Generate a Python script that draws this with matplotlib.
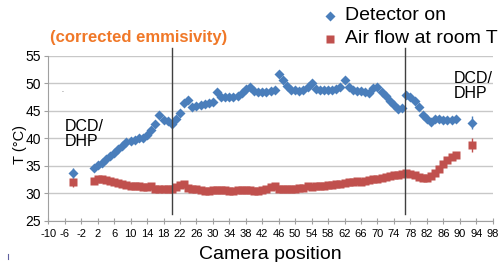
import numpy as np
import matplotlib.pyplot as plt

plt.rcParams['font.family'] = ['Liberation Sans', 'DejaVu Sans']
plt.rcParams['axes.unicode_minus'] = False

# camera positions of the main scan
positions = list(range(1, 90))

detector_on = [34.6, 35.1, 35.6, 36.2, 36.8, 37.4, 38.0, 38.6, 39.3, 39.5,
               39.8, 40.0, 40.1, 40.6, 41.6, 42.6, 44.3, 43.3, 43.1, 42.6,
               43.5, 44.6, 46.5, 47.0, 45.7, 45.9, 46.1, 46.3, 46.4, 46.6,
               48.5, 47.6, 47.5, 47.6, 47.6, 47.7, 48.3, 49.0, 49.4, 48.6,
               48.5, 48.5, 48.5, 48.6, 48.8, 51.8, 50.7, 49.5, 48.8, 48.8,
               48.7, 48.8, 49.4, 50.1, 49.0, 48.8, 48.8, 48.8, 48.8, 49.0,
               49.4, 50.6, 49.3, 48.8, 48.6, 48.6, 48.5, 48.3, 49.2, 49.3,
               48.5, 47.8, 46.9, 46.0, 45.3, 45.5, 47.9, 47.5, 46.8, 45.8,
               44.3, 43.6, 43.0, 43.5, 43.5, 43.3, 43.4, 43.3, 43.6]

air_flow = [32.3, 32.6, 32.6, 32.4, 32.2, 32.1, 31.9, 31.8, 31.6, 31.4,
            31.3, 31.3, 31.1, 31.2, 31.3, 30.9, 30.8, 30.8, 30.8, 30.9,
            31.2, 31.6, 31.7, 31.0, 30.8, 30.8, 30.7, 30.5, 30.4, 30.6,
            30.7, 30.7, 30.6, 30.5, 30.5, 30.6, 30.6, 30.6, 30.6, 30.5,
            30.5, 30.6, 30.8, 31.1, 31.4, 30.9, 30.9, 30.8, 30.9, 30.9,
            31.0, 31.0, 31.3, 31.2, 31.3, 31.3, 31.4, 31.6, 31.6, 31.7,
            31.8, 31.9, 32.0, 32.1, 32.2, 32.1, 32.3, 32.4, 32.6, 32.7,
            32.9, 33.0, 33.2, 33.3, 33.4, 33.6, 33.7, 33.5, 33.3, 33.0,
            32.8, 32.9, 33.2, 33.8, 34.5, 35.3, 36.0, 36.6, 37.0]

# DCD/DHP end points with error bars
dcd_pos = [-4, 93]
dcd_detector = [33.7, 42.9]
dcd_detector_err = [0.9, 1.2]
dcd_air = [32.0, 38.8]
dcd_air_err = [0.8, 1.3]

boundaries = [20, 76.8]

blue = '#4A7EBB'
red = '#C0504D'

fig = plt.figure(figsize=(5.02, 2.62), dpi=100)
ax = fig.add_axes([0.0962, 0.1565, 0.8853, 0.6298])

ax.plot(positions, air_flow, 's', color=red, ms=5.8, mec='none', zorder=3)
ax.plot(positions, detector_on, 'D', color=blue, ms=5, mec='none', zorder=4)
ax.errorbar(dcd_pos, dcd_air, yerr=dcd_air_err, fmt='s', color=red,
            ms=5.8, mec='none', elinewidth=1, capsize=0, zorder=3)
ax.errorbar(dcd_pos, dcd_detector, yerr=dcd_detector_err, fmt='D', color=blue,
            ms=5, mec='none', elinewidth=1, capsize=0, zorder=4)

for b in boundaries:
    ax.plot([b, b], [26.3, 56.5], color='#404040', lw=1, clip_on=False, zorder=5)

ax.set_xlim(-10, 98)
ax.set_ylim(25, 55)
ax.set_xticks(np.arange(-10, 99, 4))
ax.set_yticks(np.arange(25, 56, 5))
ax.tick_params(axis='x', labelsize=8, length=4, direction='inout',
               color='#A0A0A0', pad=4)
ax.tick_params(axis='y', labelsize=10, length=3, color='#A0A0A0', pad=2)
ax.grid(axis='y', color='#C8C8C8', lw=1)
ax.set_axisbelow(True)
for s in ['top', 'right']:
    ax.spines[s].set_visible(False)
for s in ['left', 'bottom']:
    ax.spines[s].set_color('#A0A0A0')

ax.set_xlabel('Camera position', fontsize=14, labelpad=5)
fig.text(20 / 502, 1 - 145 / 262, 'T (°C)', fontsize=10.5, rotation=90,
         ha='center', va='center')

ax.text(-5.9, 40.9, 'DCD/\nDHP', fontsize=11.5, va='center', ha='left',
        linespacing=1.0)
ax.text(88.6, 49.6, 'DCD/\nDHP', fontsize=11.5, va='center', ha='left',
        linespacing=1.0)

fig.text(0.099, 0.855, '(corrected emmisivity)', color='#F07828',
         fontsize=12, fontweight='bold', va='center')

# legend
fig.lines.append(plt.Line2D([0.657], [0.94], marker='D', color=blue, ms=5,
                            mec='none', transform=fig.transFigure))
fig.lines.append(plt.Line2D([0.657], [0.853], marker='s', color=red, ms=5.8,
                            mec='none', transform=fig.transFigure))
fig.text(0.687, 0.94, 'Detector on', fontsize=14, va='center')
fig.text(0.687, 0.853, 'Air flow at room T', fontsize=14, va='center')

# small stray marks present in the original image
fig.text(62 / 502, 1 - 90 / 262, '.', fontsize=5, color='#404040',
         ha='center', va='center')
fig.lines.append(plt.Line2D([8 / 502, 8 / 502], [1 - 259 / 262, 1 - 254 / 262],
                            color='#6060A0', lw=0.8, transform=fig.transFigure))

fig.savefig('out.png', dpi=100)
